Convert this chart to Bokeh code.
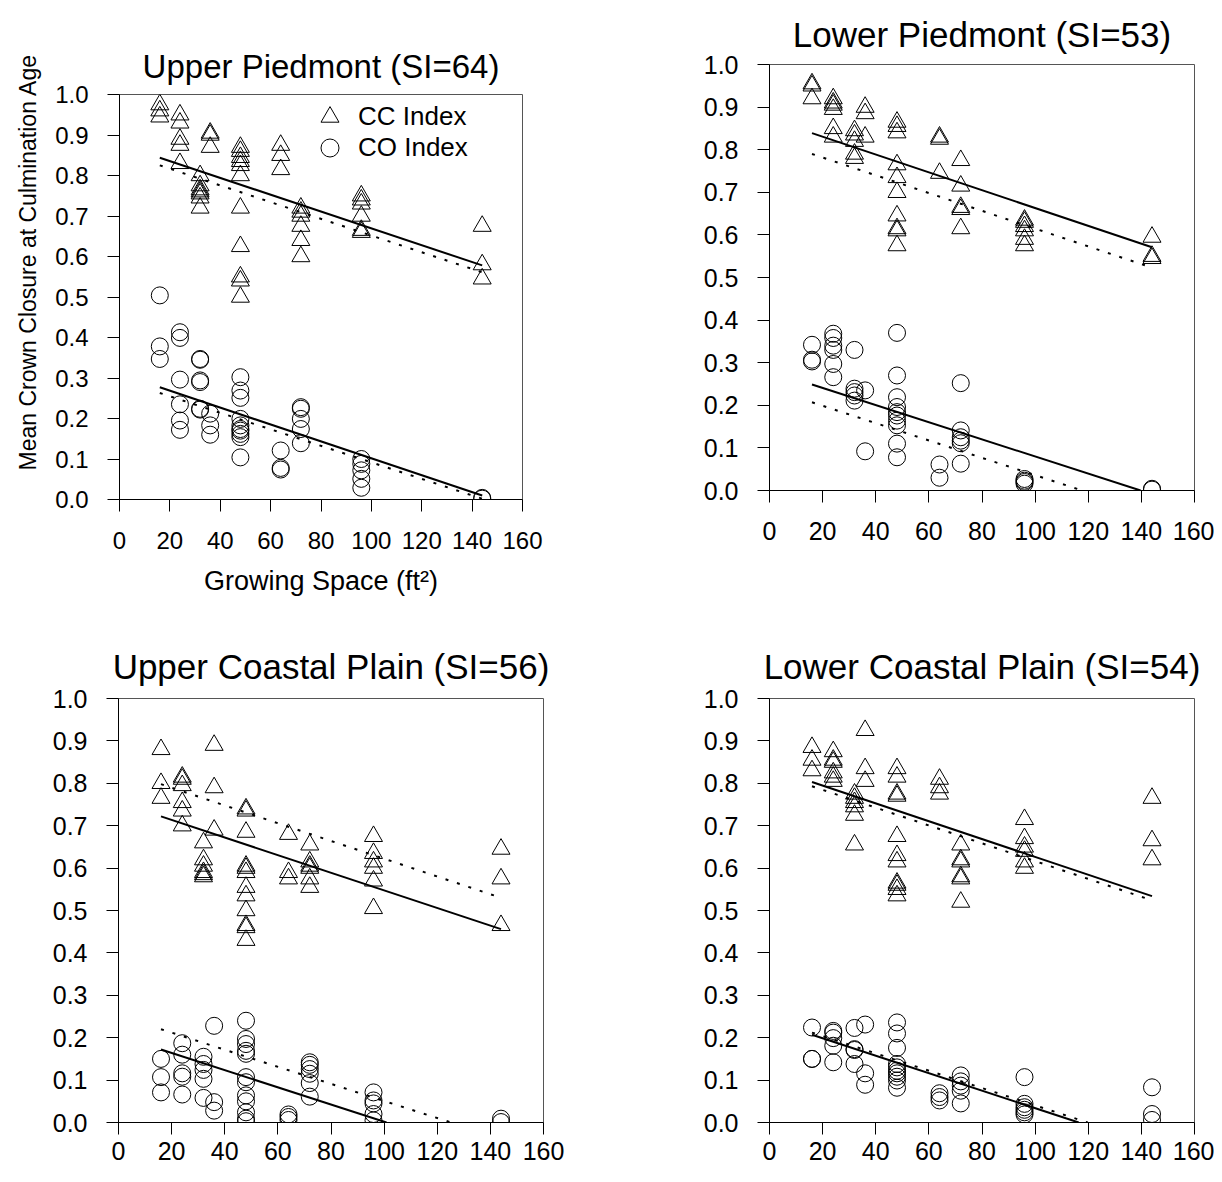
from bokeh.plotting import figure
from bokeh.layouts import column, row
from bokeh.models import Range1d, FixedTicker, PrintfTickFormatter, Legend, LegendItem, Title
from bokeh.embed import file_html
from bokeh.resources import INLINE

# ---------------- data ----------------
SPACING = [16, 24, 32, 36, 48, 64, 72, 96, 144]          # growing space (ft^2)
X_TICKS = [0, 20, 40, 60, 80, 100, 120, 140, 160]
Y_TICKS = [0.0, 0.1, 0.2, 0.3, 0.4, 0.5, 0.6, 0.7, 0.8, 0.9, 1.0]

# Upper Piedmont (SI=64)
UP_CC = [[0.975, 0.96, 0.945],
         [0.95, 0.93, 0.89, 0.875, 0.83],
         [0.80, 0.775, 0.765, 0.76, 0.755, 0.745, 0.72],
         [0.905, 0.90, 0.87],
         [0.87, 0.86, 0.845, 0.835, 0.825, 0.80, 0.72, 0.625, 0.55, 0.54, 0.50],
         [0.875, 0.85, 0.815],
         [0.72, 0.71, 0.70, 0.675, 0.64, 0.60],
         [0.75, 0.74, 0.73, 0.70, 0.665, 0.66],
         [0.675, 0.58, 0.545]]
UP_CO = [[0.504, 0.378, 0.347],
         [0.413, 0.399, 0.296, 0.235, 0.195, 0.172],
         [0.347, 0.345, 0.294, 0.29, 0.224, 0.222],
         [0.212, 0.183, 0.16],
         [0.302, 0.269, 0.251, 0.199, 0.183, 0.174, 0.17, 0.162, 0.154, 0.104],
         [0.121, 0.078, 0.074],
         [0.228, 0.224, 0.199, 0.174, 0.139],
         [0.10, 0.088, 0.072, 0.051, 0.029],
         [0.004, 0.002]]
UP_CC_SOLID_X, UP_CC_SOLID_Y = [16, 144], [0.844, 0.578]
UP_CC_DOT_X, UP_CC_DOT_Y = [16, 144], [0.825, 0.561]
UP_CO_SOLID_X, UP_CO_SOLID_Y = [16, 144], [0.277, 0.010]
UP_CO_DOT_X, UP_CO_DOT_Y = [16, 144], [0.263, 0.002]

# Lower Piedmont (SI=53)
LP_CC = [[0.955, 0.95, 0.92],
         [0.92, 0.91, 0.905, 0.895, 0.85, 0.83],
         [0.845, 0.835, 0.82, 0.79, 0.78],
         [0.90, 0.885, 0.83],
         [0.865, 0.855, 0.84, 0.765, 0.735, 0.70, 0.645, 0.615, 0.61, 0.575],
         [0.83, 0.825, 0.745],
         [0.775, 0.715, 0.665, 0.66, 0.615],
         [0.635, 0.63, 0.62, 0.61, 0.59, 0.575],
         [0.595, 0.55, 0.545]]
LP_CO = [[0.342, 0.307, 0.303],
         [0.368, 0.358, 0.34, 0.33, 0.297, 0.266],
         [0.33, 0.239, 0.231, 0.223, 0.211],
         [0.235, 0.092],
         [0.37, 0.27, 0.219, 0.196, 0.184, 0.176, 0.164, 0.153, 0.11, 0.078],
         [0.061, 0.03],
         [0.252, 0.141, 0.125, 0.117, 0.111, 0.063],
         [0.027, 0.023, 0.02, 0.016],
         [0.004, 0.002]]
LP_CC_SOLID_X, LP_CC_SOLID_Y = [16, 144], [0.839, 0.571]
LP_CC_DOT_X, LP_CC_DOT_Y = [16, 144], [0.790, 0.523]
LP_CO_SOLID_X, LP_CO_SOLID_Y = [16, 139.7], [0.249, 0.0]
LP_CO_DOT_X, LP_CO_DOT_Y = [16, 117.7], [0.207, 0.0]

# Upper Coastal Plain (SI=56)
UC_CC = [[0.88, 0.80, 0.765],
         [0.815, 0.81, 0.795, 0.755, 0.735, 0.70],
         [0.66, 0.62, 0.605, 0.59, 0.585, 0.58],
         [0.89, 0.79, 0.69],
         [0.74, 0.735, 0.685, 0.605, 0.60, 0.59, 0.555, 0.535, 0.50, 0.465, 0.46, 0.43],
         [0.68, 0.59, 0.575],
         [0.655, 0.615, 0.605, 0.60, 0.575, 0.555],
         [0.675, 0.635, 0.615, 0.60, 0.57, 0.505],
         [0.645, 0.575, 0.465]]
UC_CO = [[0.15, 0.107, 0.071],
         [0.187, 0.16, 0.116, 0.108, 0.066],
         [0.155, 0.138, 0.124, 0.103, 0.058],
         [0.228, 0.048, 0.028],
         [0.24, 0.197, 0.185, 0.169, 0.162, 0.107, 0.095, 0.064, 0.05, 0.024, 0.009, 0.003],
         [0.019, 0.013, 0.006],
         [0.142, 0.136, 0.126, 0.115, 0.093, 0.061],
         [0.071, 0.052, 0.045, 0.02, 0.005],
         [0.009, 0.001]]
UC_CC_SOLID_X, UC_CC_SOLID_Y = [16, 144], [0.722, 0.456]
UC_CC_DOT_X, UC_CC_DOT_Y = [16, 144], [0.798, 0.530]
UC_CO_SOLID_X, UC_CO_SOLID_Y = [16, 100.9], [0.172, 0.0]
UC_CO_DOT_X, UC_CO_DOT_Y = [16, 125.2], [0.220, 0.0]

# Lower Coastal Plain (SI=54)
LC_CC = [[0.885, 0.855, 0.83],
         [0.875, 0.855, 0.85, 0.825, 0.815, 0.805],
         [0.775, 0.765, 0.755, 0.745, 0.725, 0.655],
         [0.925, 0.835, 0.805],
         [0.835, 0.815, 0.775, 0.77, 0.675, 0.63, 0.615, 0.565, 0.56, 0.55, 0.535],
         [0.81, 0.79, 0.775],
         [0.655, 0.62, 0.615, 0.58, 0.575, 0.52],
         [0.715, 0.67, 0.65, 0.64, 0.615, 0.60],
         [0.765, 0.665, 0.62]]
LC_CO = [[0.224, 0.15, 0.15],
         [0.216, 0.212, 0.199, 0.181, 0.142],
         [0.223, 0.173, 0.171, 0.138],
         [0.231, 0.116, 0.089],
         [0.236, 0.21, 0.176, 0.138, 0.13, 0.122, 0.116, 0.108, 0.099, 0.082],
         [0.069, 0.06, 0.052],
         [0.111, 0.097, 0.087, 0.075, 0.045],
         [0.107, 0.044, 0.036, 0.03, 0.024, 0.019],
         [0.083, 0.02, 0.006]]
LC_CC_SOLID_X, LC_CC_SOLID_Y = [16, 144], [0.803, 0.534]
LC_CC_DOT_X, LC_CC_DOT_Y = [16, 144], [0.793, 0.524]
LC_CO_SOLID_X, LC_CO_SOLID_Y = [16, 116.4], [0.207, 0.0]
LC_CO_DOT_X, LC_CO_DOT_Y = [16, 119.8], [0.212, 0.0]

# ---------------- drawing ----------------
FONT = "Liberation Sans"


def flatten(groups):
    xs, ys = [], []
    for s, vals in zip(SPACING, groups):
        xs += [s] * len(vals)
        ys += list(vals)
    return xs, ys


def legend_box(label, renderer, loc):
    lg = Legend(items=[LegendItem(label=label, renderers=[renderer])],
                location=loc, orientation="vertical")
    lg.label_text_font = FONT
    lg.label_text_font_size = "26px"
    lg.label_text_color = "black"
    lg.border_line_color = None
    lg.background_fill_alpha = 0
    lg.padding = 0
    lg.spacing = 0
    lg.glyph_width = 45
    lg.glyph_height = 45
    lg.label_standoff = 6
    lg.label_height = 30
    lg.margin = 0
    return lg


def panel(title, cc, co, lines, width, height, borders, title_size="35px",
          tick_size="25px", title_standoff=12, x_label_standoff=20,
          xlabel=None, ylabel=None, legend=False):
    mbl, mbr, mbt, mbb = borders
    p = figure(width=width, height=height,
               x_range=Range1d(0, 160), y_range=Range1d(0, 1),
               output_backend="svg", toolbar_location=None,
               min_border_left=mbl, min_border_right=mbr,
               min_border_top=mbt, min_border_bottom=mbb)
    p.frame_align = False
    p.background_fill_color = "white"
    p.border_fill_color = "white"
    p.outline_line_color = "#555555"
    p.outline_line_width = 1
    p.grid.visible = False

    p.title.text = title
    p.title.text_font = FONT
    p.title.text_font_size = title_size
    p.title.text_font_style = "normal"
    p.title.text_color = "black"
    p.title.align = "center"
    p.title.standoff = title_standoff

    p.xaxis.ticker = FixedTicker(ticks=X_TICKS)
    p.yaxis.ticker = FixedTicker(ticks=Y_TICKS)
    p.yaxis.formatter = PrintfTickFormatter(format="%.1f")
    for ax in (p.xaxis, p.yaxis):
        ax.axis_line_color = "black"
        ax.axis_line_width = 1
        ax.major_tick_line_color = "black"
        ax.major_tick_in = 0
        ax.major_tick_out = 12
        ax.minor_tick_line_color = None
        ax.major_label_text_font = FONT
        ax.major_label_text_font_size = tick_size
        ax.major_label_text_color = "black"
        ax.axis_label_text_font = FONT
        ax.axis_label_text_font_style = "normal"
        ax.axis_label_text_color = "black"
    p.xaxis.major_label_standoff = x_label_standoff
    p.yaxis.major_label_standoff = 19

    if xlabel:
        p.xaxis.axis_label = xlabel
        p.xaxis.axis_label_text_font_size = "27px"
        p.xaxis.axis_label_standoff = 14
    if ylabel:
        yl = Title(text=ylabel, align="left", offset=29, standoff=24,
                   text_font=FONT, text_font_size="23px",
                   text_font_style="normal", text_color="black")
        p.add_layout(yl, "left")

    (csx, csy), (cdx, cdy), (osx, osy), (odx, ody) = lines
    p.line(csx, csy, line_color="black", line_width=2)
    p.line(cdx, cdy, line_color="black", line_width=2, line_dash="3 9")
    p.line(osx, osy, line_color="black", line_width=2)
    p.line(odx, ody, line_color="black", line_width=2, line_dash="3 9")

    cx, cy = flatten(cc)
    ox, oy = flatten(co)
    r_cc = p.scatter(cx, cy, marker="triangle", size=18, fill_color=None,
                     line_color="black", line_width=1)
    r_co = p.scatter(ox, oy, marker="circle", size=17, fill_color=None,
                     line_color="black", line_width=1)

    if legend:
        p.add_layout(legend_box("CC Index", r_cc, (188, 360)))
        p.add_layout(legend_box("CO Index", r_co, (188, 329)))
    return p


p1 = panel("Upper Piedmont (SI=64)", UP_CC, UP_CO,
           [(UP_CC_SOLID_X, UP_CC_SOLID_Y), (UP_CC_DOT_X, UP_CC_DOT_Y),
            (UP_CO_SOLID_X, UP_CO_SOLID_Y), (UP_CO_DOT_X, UP_CO_DOT_Y)],
           640, 620, (117, 118, 94, 121), title_size="33px", tick_size="24px",
           title_standoff=20, x_label_standoff=20,
           xlabel="Growing Space (ft²)", ylabel="Mean Crown Closure at Culmination Age",
           legend=True)
p2 = panel("Lower Piedmont (SI=53)", LP_CC, LP_CO,
           [(LP_CC_SOLID_X, LP_CC_SOLID_Y), (LP_CC_DOT_X, LP_CC_DOT_Y),
            (LP_CO_SOLID_X, LP_CO_SOLID_Y), (LP_CO_DOT_X, LP_CO_DOT_Y)],
           574, 620, (129, 20, 64, 130), title_standoff=21, x_label_standoff=19)
p3 = panel("Upper Coastal Plain (SI=56)", UC_CC, UC_CO,
           [(UC_CC_SOLID_X, UC_CC_SOLID_Y), (UC_CC_DOT_X, UC_CC_DOT_Y),
            (UC_CO_SOLID_X, UC_CO_SOLID_Y), (UC_CO_DOT_X, UC_CO_DOT_Y)],
           640, 552, (118, 97, 78, 50), title_standoff=26, x_label_standoff=7)
p4 = panel("Lower Coastal Plain (SI=54)", LC_CC, LC_CO,
           [(LC_CC_SOLID_X, LC_CC_SOLID_Y), (LC_CC_DOT_X, LC_CC_DOT_Y),
            (LC_CO_SOLID_X, LC_CO_SOLID_Y), (LC_CO_DOT_X, LC_CO_DOT_Y)],
           574, 552, (129, 20, 78, 50), title_standoff=26, x_label_standoff=7)

layout = column(row(p1, p2), row(p3, p4))
open("out.html", "w").write(file_html(layout, INLINE))
